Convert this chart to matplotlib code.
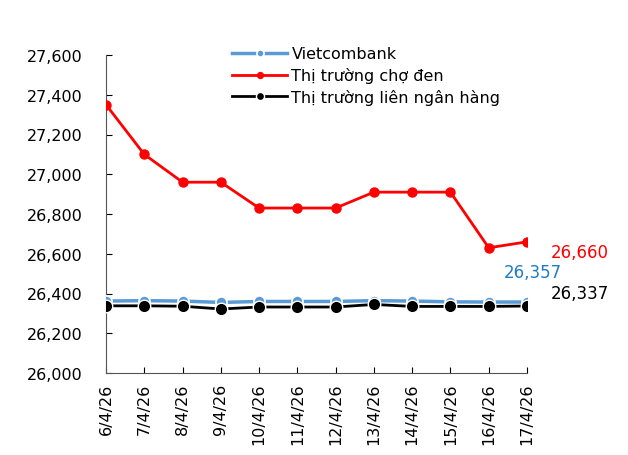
import matplotlib.pyplot as plt

dates = ["6/4/26", "7/4/26", "8/4/26", "9/4/26", "10/4/26", "11/4/26",
         "12/4/26", "13/4/26", "14/4/26", "15/4/26", "16/4/26", "17/4/26"]
vcb = [26362, 26364, 26362, 26355, 26360, 26360, 26360, 26364, 26362, 26358, 26357, 26357]
cho_den = [27350, 27100, 26960, 26960, 26830, 26830, 26830, 26910, 26910, 26910, 26630, 26660]
lien_nh = [26338, 26338, 26336, 26322, 26332, 26332, 26332, 26345, 26335, 26335, 26335, 26337]

W, H = 628, 456
fig = plt.figure(figsize=(W / 100, H / 100), dpi=100)
ax = fig.add_axes([106 / W, 1 - 374 / H, (527 - 106) / W, (374 - 56) / H])

x = range(len(dates))
ax.plot(x, vcb, color="#5b9bd5", lw=2.5, marker="o", ms=8,
        mfc="#5b9bd5", mec="white", mew=1.2, label="Vietcombank", zorder=3)
ax.plot(x, cho_den, color="#ff0000", lw=2, marker="o", ms=6.5,
        mfc="#ff0000", mec="#ff0000", label="Thị trường chợ đen", zorder=4)
ax.plot(x, lien_nh, color="black", lw=2, marker="o", ms=9,
        mfc="black", mec="white", mew=1, label="Thị trường liên ngân hàng", zorder=4)

ax.set_xlim(0, len(dates) - 1)
ax.set_ylim(26000, 27600)
ax.set_yticks(range(26000, 27601, 200))
ax.set_yticklabels([f"{v:,}" for v in range(26000, 27601, 200)])
ax.set_xticks(list(x))
ax.set_xticklabels(dates, rotation=90)
ax.tick_params(direction="in", length=4, labelsize=11.5, colors="black")
ax.tick_params(axis="y", pad=17)
ax.tick_params(axis="x", pad=7)
for s in ["top", "right"]:
    ax.spines[s].set_visible(False)
for s in ["left", "bottom"]:
    ax.spines[s].set_color("#555555")

ax.text(11.62, cho_den[-1] - 50, f"{cho_den[-1]:,}", color="#ff0000", fontsize=12,
        va="center", ha="left", clip_on=False)
ax.text(10.38, vcb[-1] + 150, f"{vcb[-1]:,}", color="#1f7bc4", fontsize=12,
        va="center", ha="left", clip_on=False)
ax.text(11.62, lien_nh[-1] + 65, f"{lien_nh[-1]:,}", color="black", fontsize=12,
        va="center", ha="left", clip_on=False)

ax.legend(loc="upper left", bbox_to_anchor=(226 / W, 1 - 41 / H),
          bbox_transform=fig.transFigure, frameon=False, fontsize=11.5,
          handlelength=3.4, handletextpad=0.3, labelspacing=0.36,
          markerscale=0.65, borderaxespad=0)

fig.savefig("out.png", dpi=100)
